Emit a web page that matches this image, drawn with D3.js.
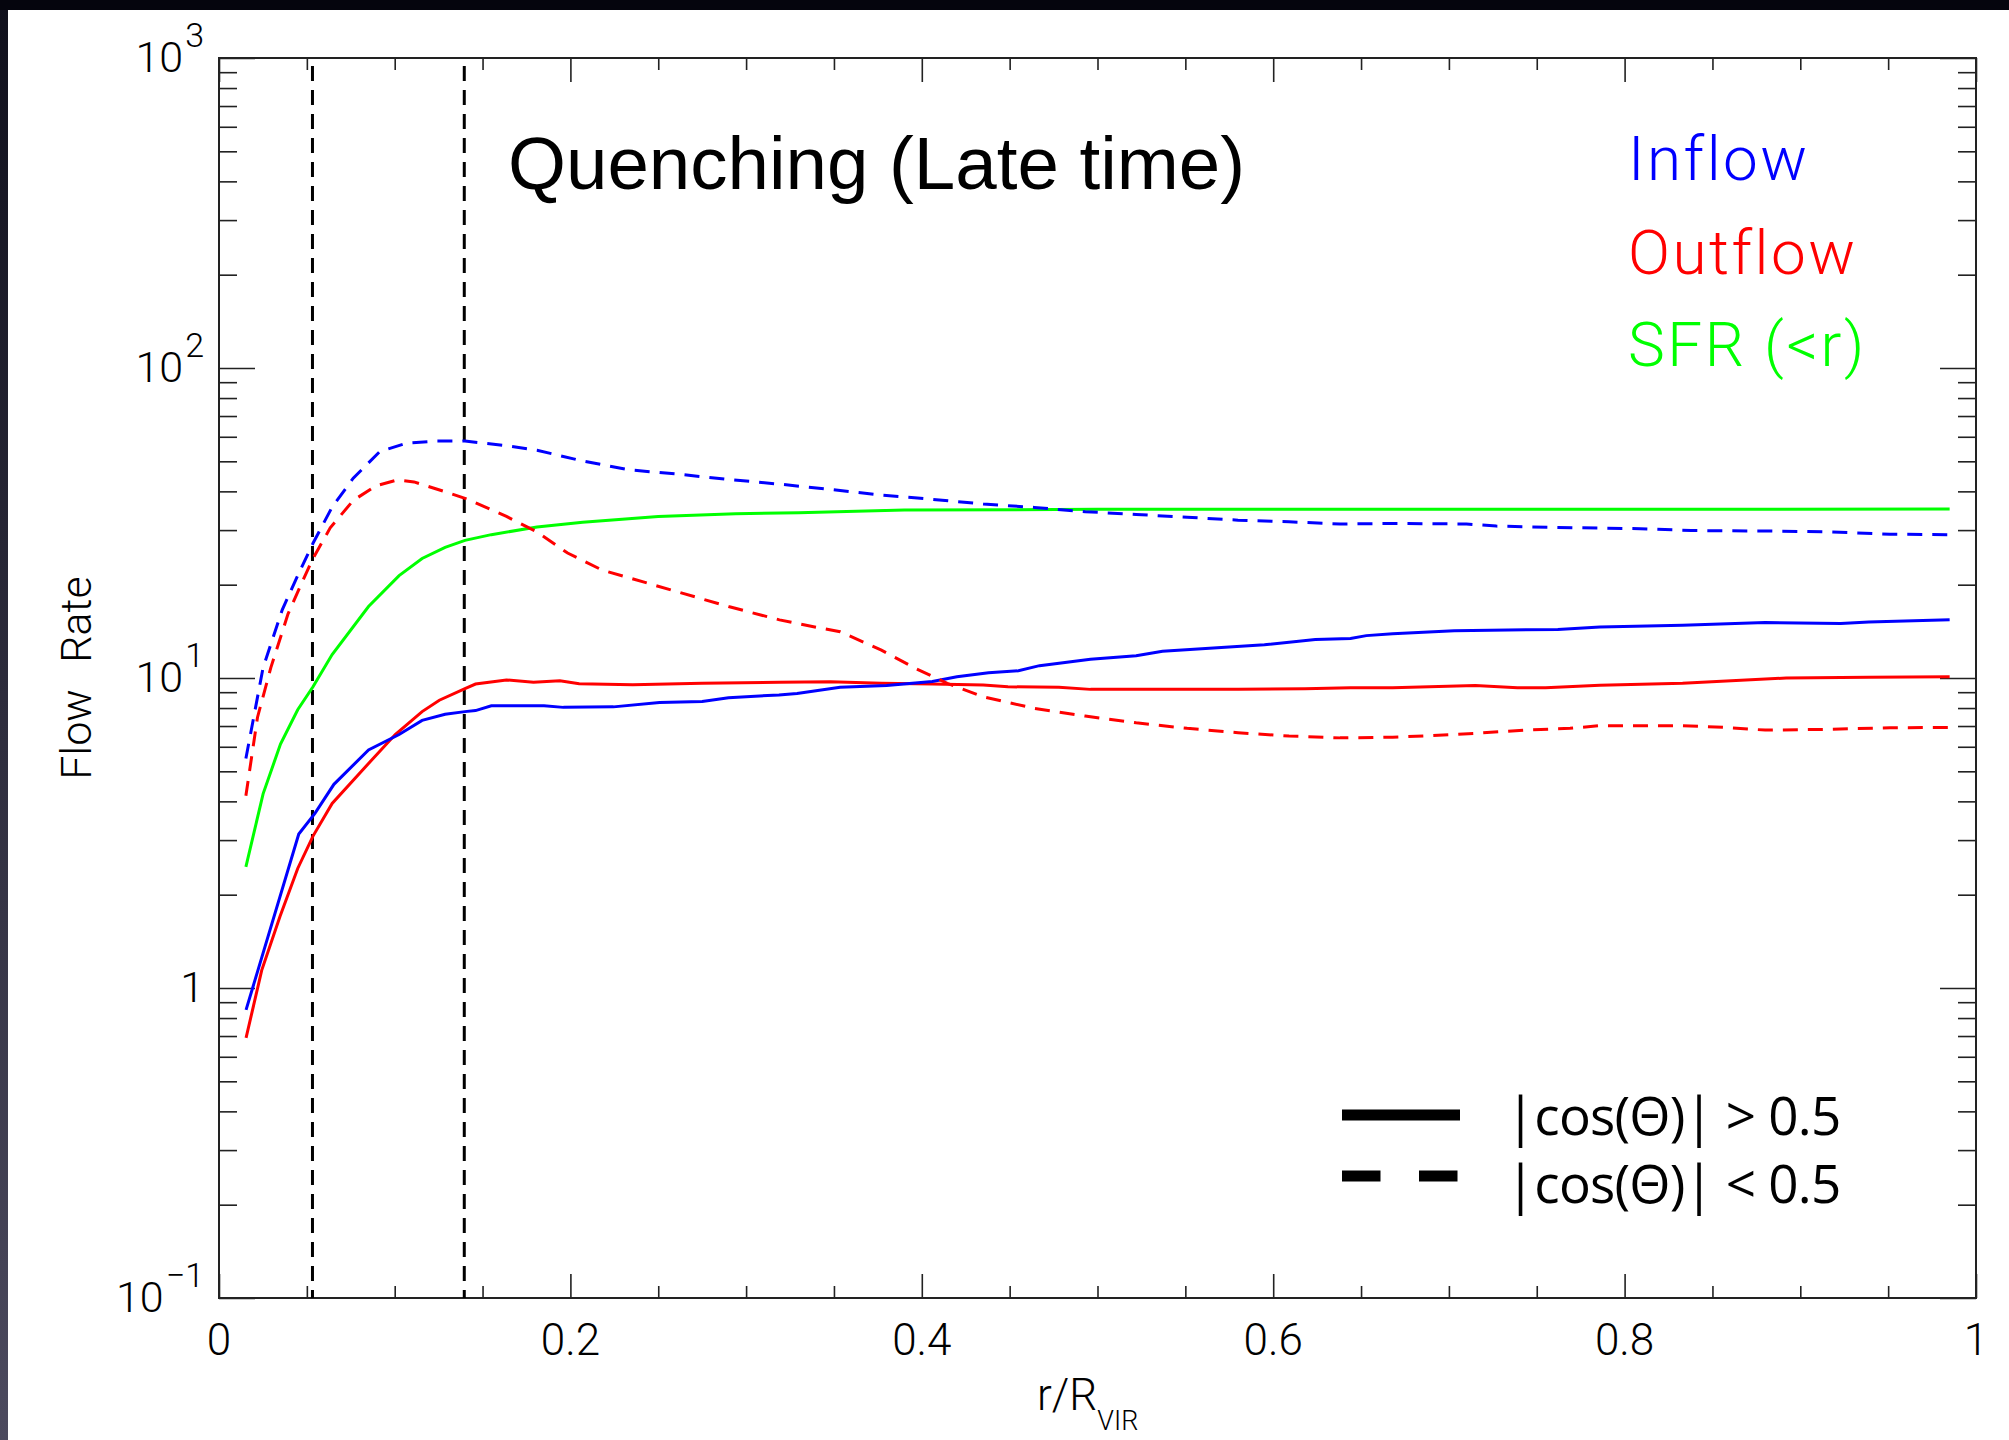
<!DOCTYPE html>
<html>
<head>
<meta charset="utf-8">
<script src="https://cdn.jsdelivr.net/npm/d3@7"></script>
<style>
  body { margin: 0; background: #ffffff; }
  .hershey { font-family: Roboto, "DejaVu Sans", sans-serif; font-weight: 300; }
</style>
</head>
<body>
<div id="chart"></div>
<script>
// values: [r/Rvir, flow rate]
var inflowPerp = [[0.0153, 5.5], [0.0251, 10.8], [0.036, 16.6], [0.0448, 21.4], [0.0535, 27.2], [0.0644, 35.6],
    [0.0764, 44.1], [0.0916, 53.8], [0.107, 57.3], [0.124, 58.1], [0.140, 58.1], [0.1635, 56.2], [0.181, 54.3],
    [0.207, 50.1], [0.234, 46.9], [0.2605, 45.5], [0.29, 43.7], [0.319, 42.2], [0.348, 40.6], [0.377, 38.9],
    [0.406, 37.7], [0.435, 36.4], [0.464, 35.5], [0.493, 34.4], [0.522, 33.7], [0.551, 33.0], [0.580, 32.3],
    [0.609, 31.9], [0.638, 31.4], [0.668, 31.5], [0.710, 31.4], [0.727, 30.9], [0.762, 30.6], [0.809, 30.3],
    [0.838, 29.9], [0.880, 29.8], [0.916, 29.6], [0.951, 29.1], [0.985, 29.0]];

var outflowPerp = [[0.0153, 4.17], [0.0219, 7.46], [0.0295, 10.8], [0.0393, 16.1], [0.048, 20.8], [0.0535, 24.3],
    [0.0633, 30.5], [0.0764, 37.4], [0.0894, 41.7], [0.1014, 43.5], [0.111, 42.9], [0.1287, 39.9], [0.1417, 37.7],
    [0.1636, 33.2], [0.181, 29.6], [0.1984, 25.3], [0.218, 22.3], [0.234, 21.0], [0.2605, 19.0], [0.29, 17.0],
    [0.319, 15.4], [0.342, 14.5], [0.3535, 14.1], [0.377, 12.3], [0.397, 10.7], [0.4145, 9.61], [0.435, 8.7],
    [0.464, 7.98], [0.493, 7.54], [0.522, 7.17], [0.551, 6.88], [0.580, 6.66], [0.609, 6.50], [0.638, 6.41],
    [0.668, 6.44], [0.691, 6.52], [0.715, 6.63], [0.743, 6.79], [0.769, 6.88], [0.786, 7.02], [0.833, 7.02],
    [0.857, 6.93], [0.880, 6.79], [0.916, 6.83], [0.951, 6.91], [0.985, 6.93]];

var inflowPar = [[0.0154, 0.85], [0.0454, 3.14], [0.0546, 3.66], [0.0654, 4.54], [0.0851, 5.86], [0.1025, 6.57],
    [0.1156, 7.30], [0.1287, 7.64], [0.140, 7.79], [0.146, 7.85], [0.155, 8.13], [0.185, 8.13], [0.196, 8.04],
    [0.2245, 8.07], [0.2507, 8.33], [0.275, 8.40], [0.29, 8.64], [0.3187, 8.82], [0.329, 8.92], [0.3535, 9.33],
    [0.380, 9.45], [0.406, 9.75], [0.420, 10.1], [0.438, 10.4], [0.455, 10.55], [0.467, 10.96], [0.496, 11.5],
    [0.522, 11.8], [0.537, 12.2], [0.566, 12.5], [0.595, 12.8], [0.624, 13.3], [0.644, 13.4], [0.653, 13.7],
    [0.668, 13.9], [0.703, 14.2], [0.762, 14.35], [0.786, 14.6], [0.833, 14.8], [0.880, 15.1], [0.923, 15.0],
    [0.939, 15.15], [0.985, 15.4]];

var outflowPar = [[0.0154, 0.69], [0.0243, 1.14], [0.0347, 1.70], [0.0448, 2.43], [0.0535, 3.09], [0.0644, 3.94],
    [0.0851, 5.30], [0.1003, 6.57], [0.1156, 7.79], [0.1254, 8.48], [0.140, 9.24], [0.146, 9.56], [0.1636, 9.86],
    [0.179, 9.69], [0.194, 9.80], [0.205, 9.59], [0.2355, 9.51], [0.275, 9.61], [0.319, 9.69], [0.348, 9.72],
    [0.377, 9.61], [0.406, 9.57], [0.435, 9.50], [0.449, 9.37], [0.478, 9.33], [0.496, 9.19], [0.537, 9.19],
    [0.580, 9.19], [0.618, 9.24], [0.644, 9.31], [0.668, 9.31], [0.715, 9.45], [0.739, 9.31], [0.755, 9.31],
    [0.786, 9.48], [0.833, 9.61], [0.892, 10.0], [0.939, 10.05], [0.985, 10.1]];

var sfr = [[0.0153, 2.46], [0.0251, 4.23], [0.035, 6.12], [0.0448, 7.90], [0.0535, 9.37], [0.0644, 11.9],
    [0.0851, 17.0], [0.1025, 21.4], [0.1156, 24.3], [0.1287, 26.4], [0.140, 27.8], [0.155, 29.0], [0.181, 30.7],
    [0.207, 31.8], [0.25, 33.2], [0.294, 33.9], [0.33, 34.1], [0.39, 34.8], [0.5, 35.0], [0.65, 35.0],
    [0.8, 35.0], [0.985, 35.1]];

var markerR = [0.0532, 0.1396];
var xMajor = [0, 0.2, 0.4, 0.6, 0.8, 1];
var xLabels = ["0", "0.2", "0.4", "0.6", "0.8", "1"];
var yMajor = [0.1, 1, 10, 100, 1000];
var yExp = ["\u22121", "", "1", "2", "3"];
var seriesNames = ["Inflow", "Outflow", "SFR (<r)"];
var seriesColors = ["#0000ff", "#ff0000", "#00ff00"];
var styleNames = ["|cos(\u0398)| > 0.5", "|cos(\u0398)| < 0.5"];

var width = 2009, height = 1440;
var plot = {left: 219, right: 1976, top: 58, bottom: 1298};

var svg = d3.select("#chart").append("svg")
    .attr("width", width)
    .attr("height", height)
    .style("display", "block");

// dark edge strips from the screenshot
var grad = svg.append("defs").append("linearGradient")
    .attr("id", "edge").attr("x1", 0).attr("y1", 0).attr("x2", 0).attr("y2", 1);
grad.append("stop").attr("offset", "0%").attr("stop-color", "#10101c");
grad.append("stop").attr("offset", "100%").attr("stop-color", "#4c4a5e");
svg.append("rect").attr("x", 0).attr("y", 0).attr("width", 8).attr("height", height).attr("fill", "url(#edge)");
svg.append("rect").attr("x", 0).attr("y", 0).attr("width", width).attr("height", 10).attr("fill", "#05050d");

var x = d3.scaleLinear().domain([0, 1]).range([plot.left, plot.right]);
var y = d3.scaleLog().domain([0.1, 1000]).range([plot.bottom, plot.top]);

var xMinor = d3.range(0, 21).map(function (i) { return i * 0.05; })
    .filter(function (v, i) { return i % 4 !== 0; });
var yMinor = [];
[0.1, 1, 10, 100].forEach(function (d) {
    for (var k = 2; k <= 9; k++) yMinor.push(d * k);
});

// ticks on all four sides, pointing inward
function tickAxis(axis, values, size, transform) {
    var g = svg.append("g")
        .attr("transform", transform)
        .call(axis.tickValues(values).tickSize(size).tickSizeOuter(0).tickFormat(""));
    g.select(".domain").remove();
    g.selectAll("line").attr("stroke", "#222").attr("stroke-width", 1.6);
    return g;
}
tickAxis(d3.axisBottom(x), xMajor, -24, "translate(0," + plot.bottom + ")");
tickAxis(d3.axisBottom(x), xMinor, -12, "translate(0," + plot.bottom + ")");
tickAxis(d3.axisTop(x), xMajor, -24, "translate(0," + plot.top + ")");
tickAxis(d3.axisTop(x), xMinor, -12, "translate(0," + plot.top + ")");
tickAxis(d3.axisLeft(y), yMajor, -36, "translate(" + plot.left + ",0)");
tickAxis(d3.axisLeft(y), yMinor, -18, "translate(" + plot.left + ",0)");
tickAxis(d3.axisRight(y), yMajor, -36, "translate(" + plot.right + ",0)");
tickAxis(d3.axisRight(y), yMinor, -18, "translate(" + plot.right + ",0)");

svg.append("rect")
    .attr("x", plot.left).attr("y", plot.top)
    .attr("width", plot.right - plot.left).attr("height", plot.bottom - plot.top)
    .attr("fill", "none").attr("stroke", "#222").attr("stroke-width", 2);

// x tick labels
svg.selectAll(".xlab")
    .data(xMajor)
    .enter()
    .append("text")
    .attr("class", "xlab hershey")
    .attr("x", function (d) { return x(d); })
    .attr("y", 1355)
    .attr("text-anchor", "middle")
    .attr("font-size", 44)
    .text(function (d, i) { return xLabels[i]; });

// y tick labels 10^n
var ylab = svg.selectAll(".ylab")
    .data(yMajor)
    .enter()
    .append("text")
    .attr("class", "ylab hershey")
    .attr("x", 204)
    .attr("y", function (d) { return y(d) + 14; })
    .attr("text-anchor", "end")
    .attr("font-size", 43);
ylab.append("tspan").text(function (d, i) { return yExp[i] === "" ? "1" : "10"; });
ylab.append("tspan")
    .attr("dx", 2)
    .attr("dy", -25)
    .attr("font-size", 34)
    .text(function (d, i) { return yExp[i]; });

// axis titles
var xt = svg.append("text")
    .attr("class", "hershey")
    .attr("x", 1037)
    .attr("y", 1410)
    .attr("font-size", 44);
xt.append("tspan").text("r/R");
xt.append("tspan").attr("dy", 20).attr("font-size", 27).text("VIR");

svg.append("text")
    .attr("class", "hershey")
    .attr("transform", "translate(91," + y(10) + ") rotate(-90)")
    .attr("text-anchor", "middle")
    .attr("font-size", 43)
    .attr("word-spacing", 16)
    .text("Flow Rate");

// vertical markers
svg.selectAll(".marker")
    .data(markerR)
    .enter()
    .append("line")
    .attr("x1", function (d) { return x(d); })
    .attr("x2", function (d) { return x(d); })
    .attr("y1", plot.top + 8)
    .attr("y2", plot.bottom)
    .attr("stroke", "#000")
    .attr("stroke-width", 3)
    .attr("stroke-dasharray", "15,9");

var line = d3.line()
    .x(function (d) { return x(d[0]); })
    .y(function (d) { return y(d[1]); });

var curves = [
    {data: sfr, color: seriesColors[2], dash: null},
    {data: outflowPar, color: seriesColors[1], dash: null},
    {data: inflowPar, color: seriesColors[0], dash: null},
    {data: outflowPerp, color: seriesColors[1], dash: "15,10"},
    {data: inflowPerp, color: seriesColors[0], dash: "15,10"}
];

svg.selectAll(".curve")
    .data(curves)
    .enter()
    .append("path")
    .attr("class", "curve")
    .attr("d", function (d) { return line(d.data); })
    .attr("fill", "none")
    .attr("stroke", function (d) { return d.color; })
    .attr("stroke-width", 3)
    .attr("stroke-dasharray", function (d) { return d.dash; });

// title
svg.append("text")
    .attr("x", 508)
    .attr("y", 189)
    .attr("font-family", "'Liberation Sans', Arial, sans-serif")
    .attr("font-size", 74.5)
    .text("Quenching (Late time)");

// colour legend
svg.selectAll(".leg")
    .data(seriesNames)
    .enter()
    .append("text")
    .attr("class", "leg hershey")
    .attr("x", 1628)
    .attr("y", function (d, i) { return [180, 274, 366][i]; })
    .attr("font-size", 62)
    .attr("letter-spacing", 2.5)
    .attr("fill", function (d, i) { return seriesColors[i]; })
    .text(function (d) { return d; });

// line style legend
svg.selectAll(".sty")
    .data(styleNames)
    .enter()
    .append("line")
    .attr("x1", 1342)
    .attr("x2", 1460)
    .attr("y1", function (d, i) { return [1115, 1176][i]; })
    .attr("y2", function (d, i) { return [1115, 1176][i]; })
    .attr("stroke", "#000")
    .attr("stroke-width", 11)
    .attr("stroke-dasharray", function (d, i) { return i === 0 ? null : "38.5,38.5"; });

svg.selectAll(".stytext")
    .data(styleNames)
    .enter()
    .append("text")
    .attr("x", 1506)
    .attr("y", function (d, i) { return [1135, 1203][i]; })
    .attr("font-family", "'Open Sans', 'Noto Sans', sans-serif")
    .attr("font-size", 53)
    .attr("letter-spacing", -0.8)
    .text(function (d) { return d; });
</script>
</body>
</html>
